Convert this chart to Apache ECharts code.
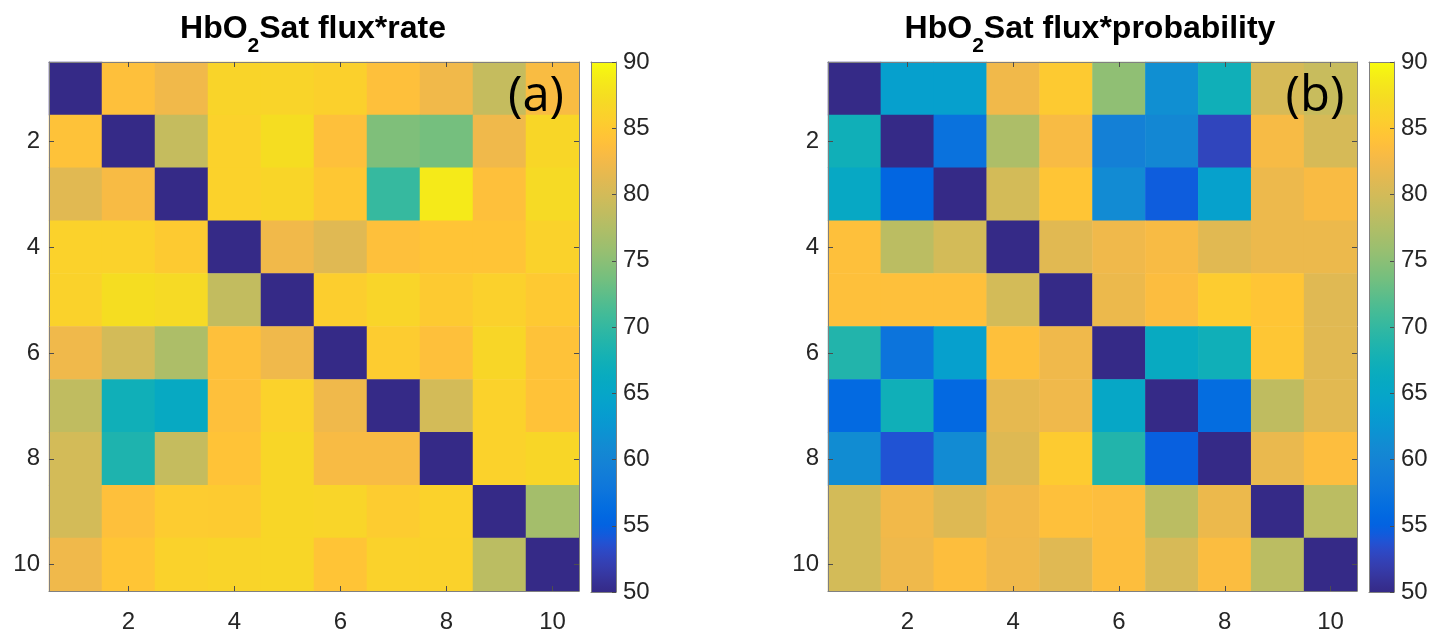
<!DOCTYPE html>
<html>
<head>
<meta charset="utf-8">
<script src="https://cdn.jsdelivr.net/npm/echarts@6/dist/echarts.min.js"></script>
<style>
  html, body { margin: 0; padding: 0; background: #ffffff; }
  #chart { width: 1445px; height: 634px; }
</style>
</head>
<body>
<div id="chart"></div>
<script>
// Channel indices on both axes of each matrix
const cells = ['1', '2', '3', '4', '5', '6', '7', '8', '9', '10'];

// HbO2Sat flux*rate, one row per channel (row 1 at the top)
const fluxRate = [
  [50.0, 83.9, 82.4, 86.3, 86.3, 85.8, 83.9, 82.4, 79.0, 83.2],
  [84.1, 50.0, 79.0, 86.0, 87.4, 83.9, 74.3, 73.7, 82.3, 86.6],
  [81.1, 83.0, 50.0, 86.0, 86.5, 84.8, 70.2, 88.6, 83.9, 87.0],
  [86.0, 86.0, 85.1, 50.0, 82.4, 81.0, 83.9, 84.4, 84.4, 86.1],
  [86.1, 87.4, 87.0, 78.7, 50.0, 85.6, 86.4, 85.1, 85.9, 85.0],
  [82.3, 80.0, 77.2, 83.9, 82.3, 50.0, 85.3, 83.9, 86.6, 84.1],
  [78.6, 67.3, 65.8, 83.9, 86.0, 82.3, 50.0, 80.0, 86.0, 84.2],
  [80.0, 68.5, 79.0, 84.3, 86.6, 83.0, 83.0, 50.0, 86.0, 86.6],
  [80.0, 83.9, 85.3, 85.2, 86.6, 86.4, 85.3, 86.0, 50.0, 76.6],
  [82.3, 84.5, 86.1, 86.3, 86.6, 84.4, 86.1, 86.1, 78.2, 50.0]
];

// HbO2Sat flux*probability, one row per channel (row 1 at the top)
const fluxProbability = [
  [50.0, 64.0, 64.0, 82.4, 85.1, 75.3, 61.5, 67.3, 80.2, 79.2],
  [67.3, 50.0, 57.2, 77.2, 83.0, 59.4, 60.5, 52.7, 82.9, 80.2],
  [65.6, 55.4, 50.0, 80.0, 84.6, 61.0, 54.5, 64.2, 82.1, 83.1],
  [83.9, 78.2, 80.0, 50.0, 81.1, 82.3, 83.0, 81.1, 82.0, 82.0],
  [83.9, 83.9, 83.9, 80.0, 50.0, 82.0, 83.5, 85.3, 84.6, 81.0],
  [68.8, 57.5, 64.0, 83.9, 82.3, 50.0, 66.0, 67.3, 84.7, 81.1],
  [56.0, 67.3, 55.9, 81.5, 82.3, 65.3, 50.0, 56.4, 78.5, 81.2],
  [61.2, 53.8, 61.1, 80.9, 85.2, 68.8, 54.8, 50.0, 81.8, 83.6],
  [80.0, 82.5, 80.9, 82.5, 83.9, 83.6, 78.2, 82.0, 50.0, 78.2],
  [80.0, 82.2, 83.7, 82.3, 81.0, 83.7, 80.3, 83.4, 78.2, 50.0]
];

// Colour scale limits and colorbar tick step
const colorMin = 50;
const colorMax = 90;
const colorStep = 5;

// Parula colormap, 64 entries (r, g, b in 0..1)
const parula = [
  [0.2081, 0.1663, 0.5292], [0.2116, 0.1898, 0.5777], [0.2123, 0.2138, 0.6270], [0.2081, 0.2386, 0.6771],
  [0.1959, 0.2645, 0.7279], [0.1707, 0.2919, 0.7792], [0.1253, 0.3242, 0.8303], [0.0591, 0.3598, 0.8683],
  [0.0117, 0.3875, 0.8820], [0.0060, 0.4086, 0.8828], [0.0165, 0.4266, 0.8786], [0.0329, 0.4430, 0.8720],
  [0.0498, 0.4586, 0.8641], [0.0629, 0.4737, 0.8554], [0.0723, 0.4887, 0.8467], [0.0779, 0.5040, 0.8384],
  [0.0793, 0.5200, 0.8312], [0.0749, 0.5375, 0.8263], [0.0641, 0.5570, 0.8240], [0.0488, 0.5772, 0.8228],
  [0.0343, 0.5966, 0.8199], [0.0265, 0.6137, 0.8135], [0.0239, 0.6287, 0.8038], [0.0231, 0.6418, 0.7913],
  [0.0228, 0.6535, 0.7768], [0.0267, 0.6642, 0.7607], [0.0384, 0.6743, 0.7436], [0.0590, 0.6838, 0.7254],
  [0.0843, 0.6928, 0.7062], [0.1133, 0.7015, 0.6859], [0.1453, 0.7098, 0.6646], [0.1801, 0.7177, 0.6424],
  [0.2178, 0.7250, 0.6193], [0.2586, 0.7317, 0.5954], [0.3022, 0.7376, 0.5712], [0.3482, 0.7424, 0.5473],
  [0.3953, 0.7459, 0.5244], [0.4420, 0.7481, 0.5033], [0.4871, 0.7491, 0.4840], [0.5300, 0.7491, 0.4661],
  [0.5709, 0.7485, 0.4494], [0.6099, 0.7473, 0.4337], [0.6473, 0.7456, 0.4188], [0.6834, 0.7435, 0.4044],
  [0.7184, 0.7411, 0.3905], [0.7525, 0.7384, 0.3768], [0.7858, 0.7356, 0.3633], [0.8185, 0.7327, 0.3498],
  [0.8507, 0.7299, 0.3360], [0.8824, 0.7274, 0.3217], [0.9139, 0.7258, 0.3063], [0.9450, 0.7261, 0.2886],
  [0.9739, 0.7314, 0.2666], [0.9938, 0.7455, 0.2403], [0.9990, 0.7653, 0.2164], [0.9955, 0.7861, 0.1967],
  [0.9880, 0.8066, 0.1794], [0.9789, 0.8271, 0.1633], [0.9697, 0.8481, 0.1475], [0.9626, 0.8705, 0.1309],
  [0.9589, 0.8949, 0.1132], [0.9598, 0.9218, 0.0948], [0.9661, 0.9514, 0.0755], [0.9763, 0.9831, 0.0538]
];

const toHex = rgb => '#' + rgb.map(v => Math.round(v * 255).toString(16).padStart(2, '0')).join('');
const parulaHex = parula.map(toHex);

// [column, row, value] triples for the heatmap series
function toTriples(matrix) {
  const out = [];
  matrix.forEach((row, r) => row.forEach((v, c) => out.push([c, r, v])));
  return out;
}

const FONT = "'Liberation Sans', Arial, Helvetica, sans-serif";
const TEXT = '#262626';
const BOX = '#808080';
const TICK = '#4d4d4d';
const everyOther = i => i % 2 === 1;

const panels = [
  {
    matrix: fluxRate, name: 'Sat flux*rate', tag: '(a)',
    grid: { left: 49, top: 62, width: 530, height: 530 },
    bar: { left: 591, top: 62, width: 25, height: 530 },
    titleX: 313, tagX: 536
  },
  {
    matrix: fluxProbability, name: 'Sat flux*probability', tag: '(b)',
    grid: { left: 828, top: 62, width: 529, height: 530 },
    bar: { left: 1369, top: 62, width: 25, height: 530 },
    titleX: 1090, tagX: 1315
  }
];

const grids = [], xAxes = [], yAxes = [], series = [], graphics = [];

function categoryAxis(g, position, withLabels, inverse) {
  return {
    type: 'category', gridIndex: g, data: cells, position: position, inverse: !!inverse,
    boundaryGap: true, z: 5,
    axisLine: { show: true, onZero: false, lineStyle: { color: BOX, width: 1 } },
    axisTick: { show: true, inside: true, length: 5, alignWithLabel: true, interval: everyOther,
                lineStyle: { color: TICK, width: 1 } },
    axisLabel: { show: withLabels, interval: everyOther, margin: position === 'bottom' ? 19 : 9,
                 fontSize: 24, color: TEXT, fontFamily: FONT },
    splitLine: { show: false }
  };
}

panels.forEach((p, k) => {
  const gHeat = 2 * k, gBar = 2 * k + 1;
  grids.push(Object.assign({ containLabel: false }, p.grid));
  grids.push(Object.assign({ containLabel: false }, p.bar));

  // heatmap axes: bottom/left carry labels, top/right carry ticks only
  xAxes.push(categoryAxis(gHeat, 'bottom', true));
  xAxes.push(categoryAxis(gHeat, 'top', false));
  yAxes.push(categoryAxis(gHeat, 'left', true, true));
  yAxes.push(categoryAxis(gHeat, 'right', false, true));

  // colorbar frame and scale
  const frameX = pos => ({
    type: 'value', gridIndex: gBar, min: 0, max: 1, position: pos, z: 5,
    axisLine: { show: true, onZero: false, lineStyle: { color: BOX, width: 1 } },
    axisTick: { show: false }, axisLabel: { show: false }, splitLine: { show: false }
  });
  xAxes.push(frameX('bottom'));
  xAxes.push(frameX('top'));
  yAxes.push({
    type: 'value', gridIndex: gBar, min: colorMin, max: colorMax, interval: colorStep, position: 'right', z: 5,
    axisLine: { show: true, onZero: false, lineStyle: { color: BOX, width: 1 } },
    axisTick: { show: true, inside: true, length: 4, lineStyle: { color: TICK, width: 1 } },
    axisLabel: { show: true, margin: 7, fontSize: 24, color: TEXT, fontFamily: FONT, padding: [6, 0, 0, 0] },
    splitLine: { show: false }
  });
  yAxes.push({
    type: 'value', gridIndex: gBar, min: colorMin, max: colorMax, interval: colorStep, position: 'left', z: 5,
    axisLine: { show: true, onZero: false, lineStyle: { color: BOX, width: 1 } },
    axisTick: { show: false }, axisLabel: { show: false }, splitLine: { show: false }
  });

  series.push({
    type: 'heatmap', xAxisIndex: 4 * k, yAxisIndex: 4 * k,
    data: toTriples(p.matrix),
    itemStyle: { borderWidth: 0 },
    emphasis: { disabled: true },
    silent: true, z: 2
  });

  series.push({
    type: 'custom', xAxisIndex: 4 * k + 2, yAxisIndex: 4 * k + 2,
    data: [[0, colorMin, 1, colorMax]],
    silent: true, z: 2,
    renderItem: (params, api) => {
      const lo = api.coord([api.value(0), api.value(1)]);
      const hi = api.coord([api.value(2), api.value(3)]);
      return {
        type: 'rect',
        shape: { x: lo[0], y: hi[1], width: hi[0] - lo[0], height: lo[1] - hi[1] },
        style: {
          fill: new echarts.graphic.LinearGradient(0, 1, 0, 0,
            parulaHex.map((c, i) => ({ offset: i / (parulaHex.length - 1), color: c })))
        }
      };
    }
  });

  graphics.push({
    type: 'text', x: p.titleX, y: 29, z: 100,
    style: {
      text: '{m|HbO}{s|2}{m|' + p.name + '}',
      align: 'center', verticalAlign: 'middle',
      rich: {
        m: { fontSize: 32, fontWeight: 'bold', fontFamily: FONT, fill: '#000000' },
        s: { fontSize: 21, fontWeight: 'bold', fontFamily: FONT, fill: '#000000', padding: [34, 0, 0, 0] }
      }
    }
  });
  graphics.push({
    type: 'text', x: p.tagX, y: 97, z: 100,
    style: {
      text: p.tag, align: 'center', verticalAlign: 'middle',
      fontSize: 49, fontFamily: "'Open Sans', 'Noto Sans', sans-serif", fill: '#000000'
    }
  });
});

const chart = echarts.init(document.getElementById('chart'), null, { renderer: 'canvas' });
chart.setOption({
  backgroundColor: '#ffffff',
  animation: false,
  grid: grids,
  xAxis: xAxes,
  yAxis: yAxes,
  visualMap: {
    type: 'continuous', show: false, min: colorMin, max: colorMax,
    seriesIndex: [0, 2], inRange: { color: parulaHex }
  },
  series: series,
  graphic: graphics
});
</script>
</body>
</html>
